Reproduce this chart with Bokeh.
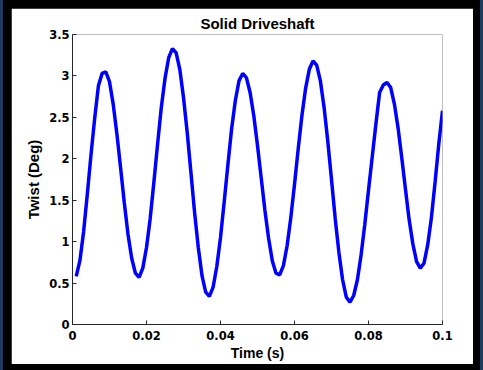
from bokeh.plotting import figure
from bokeh.models import Range1d, FixedTicker, CustomJSTickFormatter, Div
from bokeh.layouts import row
from bokeh.embed import file_html
from bokeh.resources import INLINE

title_text = "Solid Driveshaft"
x_label = "Time (s)"
y_label = "Twist (Deg)"

time_s = [
    0.001, 0.002, 0.003, 0.004, 0.005, 0.006, 0.007, 0.008, 0.009, 0.010,
    0.011, 0.012, 0.013, 0.014, 0.015, 0.016, 0.017, 0.018, 0.019, 0.020,
    0.021, 0.022, 0.023, 0.024, 0.025, 0.026, 0.027, 0.028, 0.029, 0.030,
    0.031, 0.032, 0.033, 0.034, 0.035, 0.036, 0.037, 0.038, 0.039, 0.040,
    0.041, 0.042, 0.043, 0.044, 0.045, 0.046, 0.047, 0.048, 0.049, 0.050,
    0.051, 0.052, 0.053, 0.054, 0.055, 0.056, 0.057, 0.058, 0.059, 0.060,
    0.061, 0.062, 0.063, 0.064, 0.065, 0.066, 0.067, 0.068, 0.069, 0.070,
    0.071, 0.072, 0.073, 0.074, 0.075, 0.076, 0.077, 0.078, 0.079, 0.080,
    0.081, 0.082, 0.083, 0.084, 0.085, 0.086, 0.087, 0.088, 0.089, 0.090,
    0.091, 0.092, 0.093, 0.094, 0.095, 0.096, 0.097, 0.098, 0.099, 0.100,
]
twist_deg = [
    0.58, 0.77, 1.12, 1.57, 2.05, 2.49, 2.88, 3.03, 3.05, 2.93,
    2.66, 2.30, 1.89, 1.47, 1.09, 0.80, 0.62, 0.57, 0.68, 0.93,
    1.28, 1.72, 2.18, 2.62, 2.97, 3.22, 3.33, 3.28, 3.08, 2.74,
    2.32, 1.84, 1.35, 0.93, 0.59, 0.39, 0.34, 0.45, 0.70, 1.05,
    1.48, 1.93, 2.36, 2.70, 2.94, 3.03, 2.98, 2.80, 2.52, 2.16,
    1.77, 1.38, 1.04, 0.77, 0.62, 0.60, 0.71, 0.95, 1.29, 1.69,
    2.12, 2.52, 2.85, 3.08, 3.18, 3.13, 2.94, 2.62, 2.21, 1.75,
    1.28, 0.87, 0.54, 0.33, 0.27, 0.35, 0.54, 0.84, 1.21, 1.62,
    2.02, 2.42, 2.80, 2.89, 2.92, 2.86, 2.66, 2.37, 2.01, 1.63,
    1.26, 0.97, 0.76, 0.68, 0.74, 0.96, 1.29, 1.72, 2.18, 2.58,
]
x_ticks = [0, 0.02, 0.04, 0.06, 0.08, 0.1]
y_ticks = [0, 0.5, 1, 1.5, 2, 2.5, 3, 3.5]

p = figure(width=462, height=356, output_backend="svg", toolbar_location=None,
           x_range=Range1d(0, 0.1), y_range=Range1d(0, 3.5),
           min_border_left=61, min_border_right=31, min_border_top=26,
           min_border_bottom=40, border_fill_color="white",
           background_fill_color="white", margin=(8, 7, 6, 8))
p.outline_line_color = None
p.grid.visible = False

p.title.text = title_text
p.title.align = "center"
p.title.text_font = "Liberation Sans"
p.title.text_font_size = "15px"
p.title.text_font_style = "bold"
p.title.text_color = "black"
p.title.standoff = 6

p.line(time_s, twist_deg, line_color="#0000ff", line_width=3.5)

fmt = CustomJSTickFormatter(code="return String(Number(tick.toFixed(3)));")
for ax, ticks in ((p.xaxis, x_ticks), (p.yaxis, y_ticks)):
    ax.ticker = FixedTicker(ticks=ticks)
    ax.formatter = fmt
    ax.minor_tick_line_color = None
    ax.major_tick_in = 4
    ax.major_tick_out = 0
    ax.axis_line_color = "#262626"
    ax.major_tick_line_color = "#262626"
    ax.major_label_text_font = "DejaVu Sans"
    ax.major_label_text_font_style = "bold"
    ax.major_label_text_font_size = "11.5px"
    ax.major_label_text_color = "black"
    ax.axis_label_text_font = "Liberation Sans"
    ax.axis_label_text_font_style = "bold"
    ax.axis_label_text_color = "black"

p.xaxis.axis_label = x_label
p.yaxis.axis_label = y_label
p.xaxis.axis_label_text_font_size = "14px"
p.yaxis.axis_label_text_font_size = "15px"
p.xaxis.major_label_standoff = 6
p.yaxis.major_label_standoff = 3
p.xaxis.axis_label_standoff = 2
p.yaxis.axis_label_standoff = 4

left_strip = Div(text="", width=3, height=370, margin=0,
                 styles={"background-color": "#1e3a5f"})
right_strip = Div(text="", width=3, height=370, margin=0,
                  styles={"background-color": "#1e3a5f"})
layout = row(left_strip, p, right_strip, spacing=0, margin=0,
             styles={"background-color": "black"})

open("out.html", "w").write(file_html(layout, INLINE))
